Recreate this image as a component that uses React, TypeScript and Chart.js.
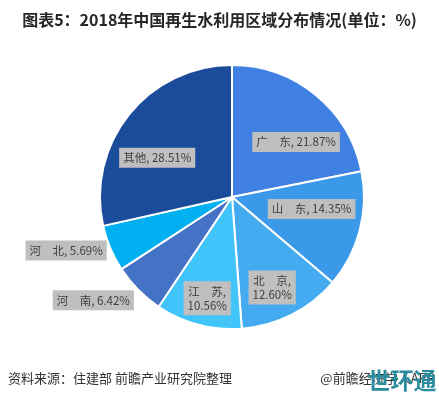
import React, { useEffect, useRef } from "react";
import { Chart, registerables } from "chart.js";

Chart.register(...registerables);

const regions = ["广　东", "山　东", "北　京", "江　苏", "河　南", "河　北", "其他"];
const shares = [21.87, 14.35, 12.6, 10.56, 6.42, 5.69, 28.51];
const sliceColors = ["#3f80e2", "#3a9ae9", "#45abf1", "#40c4fa", "#4472c4", "#00b0f0", "#1b4c9c"];
const labelTwoLines = [false, false, true, true, false, false, false];
const labelRadius = [0.64, 0.61, 0.75, 0.79, 1.31, 1.32, 0.64];
const labelAngleShift = [10, -6, 3, -1, 8, 5, -11];

const titleText = "图表5：2018年中国再生水利用区域分布情况(单位：%)";
const sourceText = "资料来源：住建部 前瞻产业研究院整理";
const creditText = "@前瞻经济学人APP";
const markText = "世环通";

const FONT = '"Noto Sans CJK SC", "Noto Sans", sans-serif';

const decorPlugin = {
  id: "decor",
  afterDraw(chart: any) {
    const ctx = chart.ctx as CanvasRenderingContext2D;
    const W = chart.width;
    ctx.save();
    ctx.fillStyle = "#262626";
    ctx.font = `bold 16px ${FONT}`;
    ctx.textAlign = "center";
    ctx.textBaseline = "middle";
    ctx.fillText(titleText, W / 2, 20);

    ctx.font = `13px ${FONT}`;
    ctx.fillStyle = "#333333";
    ctx.textAlign = "left";
    ctx.fillText(sourceText, 8, 378);
    ctx.textAlign = "right";
    ctx.fillText(creditText, 435, 378);

    ctx.font = `bold 23px ${FONT}`;
    ctx.fillStyle = "#2a8c9e";
    ctx.textAlign = "center";
    ctx.fillText(markText, 402, 380);
    ctx.restore();
  },
  afterDatasetsDraw(chart: any) {
    const ctx = chart.ctx as CanvasRenderingContext2D;
    const meta = chart.getDatasetMeta(0);
    ctx.save();
    ctx.font = `11.5px ${FONT}`;
    ctx.textBaseline = "middle";
    ctx.textAlign = "center";
    meta.data.forEach((arc: any, i: number) => {
      const mid = (arc.startAngle + arc.endAngle) / 2 + (labelAngleShift[i] * Math.PI) / 180;
      const r = arc.outerRadius * labelRadius[i];
      const x = arc.x + r * Math.cos(mid);
      const y = arc.y + r * Math.sin(mid);
      const pct = shares[i].toFixed(2) + "%";
      const lines = labelTwoLines[i] ? [regions[i] + ",", pct] : [regions[i] + ", " + pct];
      const lh = 14;
      const w = Math.max(...lines.map((l) => ctx.measureText(l).width)) + 8;
      const h = lines.length * lh + 6;
      ctx.fillStyle = "#bfbfbf";
      ctx.fillRect(x - w / 2, y - h / 2, w, h);
      ctx.fillStyle = "#404040";
      lines.forEach((l, k) => {
        ctx.fillText(l, x, y - ((lines.length - 1) * lh) / 2 + k * lh);
      });
    });
    ctx.restore();
  },
};

export default function App() {
  const ref = useRef<HTMLCanvasElement>(null);
  useEffect(() => {
    if (!ref.current) return;
    const chart = new Chart(ref.current, {
      type: "pie",
      data: {
        labels: regions,
        datasets: [
          {
            data: shares,
            backgroundColor: sliceColors,
            borderColor: "#ffffff",
            borderWidth: 2,
          },
        ],
      },
      options: {
        animation: false,
        responsive: false,
        layout: { padding: { left: 99, right: 74, top: 63, bottom: 67 } },
        plugins: {
          legend: { display: false },
          tooltip: { enabled: false },
          title: { display: false },
        },
      },
      plugins: [decorPlugin],
    });
    return () => chart.destroy();
  }, []);
  return (
    <div style={{ position: "absolute", left: 0, top: 0, width: 439, height: 398, background: "#fff" }}>
      <canvas ref={ref} width={439} height={398} style={{ display: "block" }} />
    </div>
  );
}
